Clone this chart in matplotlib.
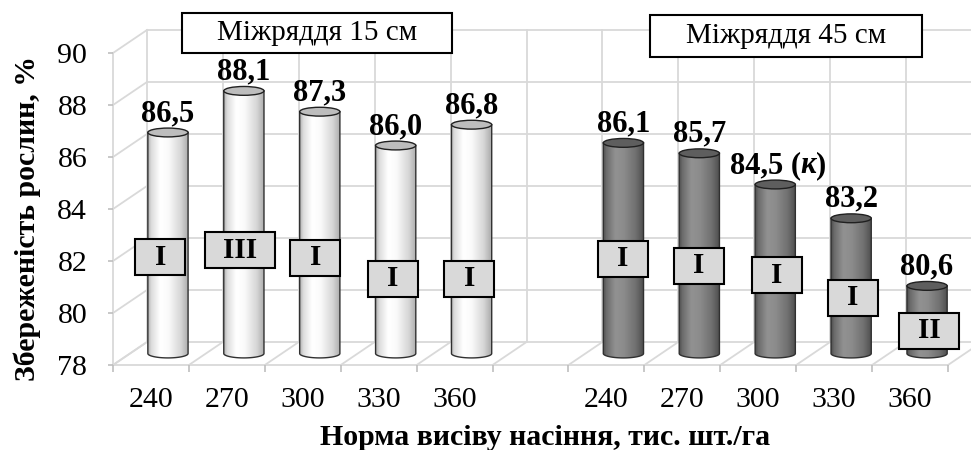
import numpy as np
import matplotlib
matplotlib.use("Agg")
from matplotlib import pyplot as plt
from matplotlib.patches import Ellipse, Rectangle, PathPatch
from matplotlib.path import Path

plt.rcParams['font.family'] = ['Liberation Serif', 'DejaVu Serif']

# data
rates = ["240", "270", "300", "330", "360"]
spacing_15 = [86.5, 88.1, 87.3, 86.0, 86.8]
spacing_45 = [86.1, 85.7, 84.5, 83.2, 80.6]
groups_15 = ["I", "III", "I", "I", "I"]
groups_45 = ["I", "I", "I", "I", "II"]
titles = ["Міжряддя 15 см", "Міжряддя 45 см"]
control = 7  # index of the control variant (к)

# layout
slots = [0, 1, 2, 3, 4, 6, 7, 8, 9, 10]
letter_y = [82.15, 82.42, 82.12, 81.31, 81.31, 82.08, 81.81, 81.46, 80.58, 79.31]
letter_dx = [-0.10, -0.05, -0.06, -0.04, -0.03, -0.01, -0.01, 0.02, 0.02, 0.03]
DX, DY = 0.448, 0.885   # depth offset (slots, %)
PX_X, PX_Y = 75.9, 26.0  # pixels per slot / per %
GRID = '#d9d9d9'

values = spacing_15 + spacing_45
letters = groups_15 + groups_45

fig = plt.figure(figsize=(9.71, 4.5), dpi=100)
ax = fig.add_axes([113 / 971, 85 / 450, 835 / 971, 312 / 450])

# back wall, side wall, floor
yt = np.arange(78, 91, 2)
for t in yt:
    ax.plot([DX, 12 + DX], [t + DY, t + DY], color=GRID, lw=1.3, clip_on=False, zorder=1)
    ax.plot([0, DX], [t, t + DY], color=GRID, lw=1.3, clip_on=False, zorder=1)
for k in range(12):
    ax.plot([k + DX, k + DX], [78 + DY, 90 + DY], color=GRID, lw=1.3, clip_on=False, zorder=1)
    ax.plot([k, k + DX], [78, 78 + DY], color=GRID, lw=1.3, clip_on=False, zorder=1)

s = np.linspace(0, 1, 200)
light = np.interp(s, [0, 0.08, 0.3, 0.5, 0.8, 1], [0.70, 0.86, 1.0, 0.98, 0.84, 0.66])
dark = np.interp(s, [0, 0.08, 0.3, 0.5, 0.8, 1], [0.30, 0.42, 0.57, 0.55, 0.44, 0.30])

r, ry = 0.265, 0.17
base = 78 + DY / 2
for i, (slot, v) in enumerate(zip(slots, values)):
    cx = slot + 0.5 + DX / 2
    ytop = v + DY / 2
    is_dark = i >= 5
    ang = np.linspace(np.pi, 2 * np.pi, 60)
    bx = cx + r * np.cos(ang)
    by = base + ry * np.sin(ang)
    xs = [cx - r] + list(bx) + [cx + r]
    ys = [ytop] + list(by) + [ytop]
    body = PathPatch(Path(list(zip(xs, ys)) + [(cx - r, ytop)], closed=True),
                     transform=ax.transData, fc='none', ec='none')
    ax.add_patch(body)
    im = ax.imshow((dark if is_dark else light)[None, :], cmap='gray', vmin=0, vmax=1,
                   extent=(cx - r, cx + r, base - ry, ytop), aspect='auto',
                   interpolation='bilinear', zorder=3)
    im.set_clip_path(body)
    ax.plot(xs, ys, color='#303030', lw=1.0, zorder=4)
    ax.add_patch(Ellipse((cx, ytop), 2 * r, 2 * ry, fc='#5e5e5e' if is_dark else '#bdbdbd',
                         ec='#202020', lw=1.0, zorder=5))

    lab = f"{v:.1f}".replace('.', ',')
    ly = v + 1.17
    if i == control:
        t1 = ax.text(cx - 0.60, ly, lab + " (", ha='left', va='center',
                     fontsize=22, fontweight='bold', zorder=6)
        t2 = ax.annotate("к", xy=(1, 0), xycoords=t1, ha='left', va='bottom',
                         fontsize=22, fontweight='bold', fontstyle='italic', zorder=6)
        ax.annotate(")", xy=(1, 0), xycoords=t2, ha='left', va='bottom',
                    fontsize=22, fontweight='bold', zorder=6)
    else:
        ax.text(cx, ly, lab, ha='center', va='center', fontsize=22,
                fontweight='bold', zorder=6)

    # significance group box
    L = letters[i]
    w = (40 + 10 * len(L)) / PX_X
    h = 36 / PX_Y
    bxc = cx + letter_dx[i]
    ax.add_patch(Rectangle((bxc - w / 2, letter_y[i] - h / 2), w, h, fc='#d9d9d9',
                           ec='black', lw=1.5, zorder=7, clip_on=False))
    ax.text(bxc, letter_y[i], L, ha='center', va='center', fontsize=21,
            fontweight='bold', zorder=8)

# spacing title boxes
for (xc, yc, wpx, hpx), ttl in zip([(2.69, 90.77, 270, 40), (8.87, 90.65, 272, 42)], titles):
    w, h = wpx / PX_X, hpx / PX_Y
    ax.add_patch(Rectangle((xc - w / 2, yc - h / 2), w, h, fc='white', ec='black',
                           lw=1.5, zorder=7, clip_on=False))
    ax.text(xc, yc, ttl, ha='center', va='center', fontsize=21, zorder=8)

ax.set_xlim(0, 11)
ax.set_ylim(78, 90)
ax.set_xticks([k + 0.5 for k in slots])
ax.set_xticklabels(rates + rates)
ax.set_xticks(range(12), minor=True)
ax.tick_params(axis='x', which='major', length=0, pad=16, labelsize=21.5)
ax.tick_params(axis='x', which='minor', length=5, color='#bfbfbf', width=1.2)
ax.set_yticks(yt)
ax.tick_params(axis='y', length=3.6, color='#bfbfbf', width=1.2, pad=15, labelsize=21.5)
for sp in ['top', 'right']:
    ax.spines[sp].set_visible(False)
for sp in ['left', 'bottom']:
    ax.spines[sp].set_color(GRID)
    ax.spines[sp].set_linewidth(1.3)
    ax.spines[sp].set_zorder(1)

ax.set_xlabel("Норма висіву насіння, тис. шт./га", fontsize=21.5, fontweight='bold')
ax.xaxis.set_label_coords(0.517, -0.231)
ax.xaxis.label.set_va('center')
ax.set_ylabel("Збереженість рослин, %", fontsize=21.5, fontweight='bold')
ax.yaxis.set_label_coords(-0.103, 0.471)
ax.yaxis.label.set_va('center')

fig.savefig("out.png", dpi=100)
